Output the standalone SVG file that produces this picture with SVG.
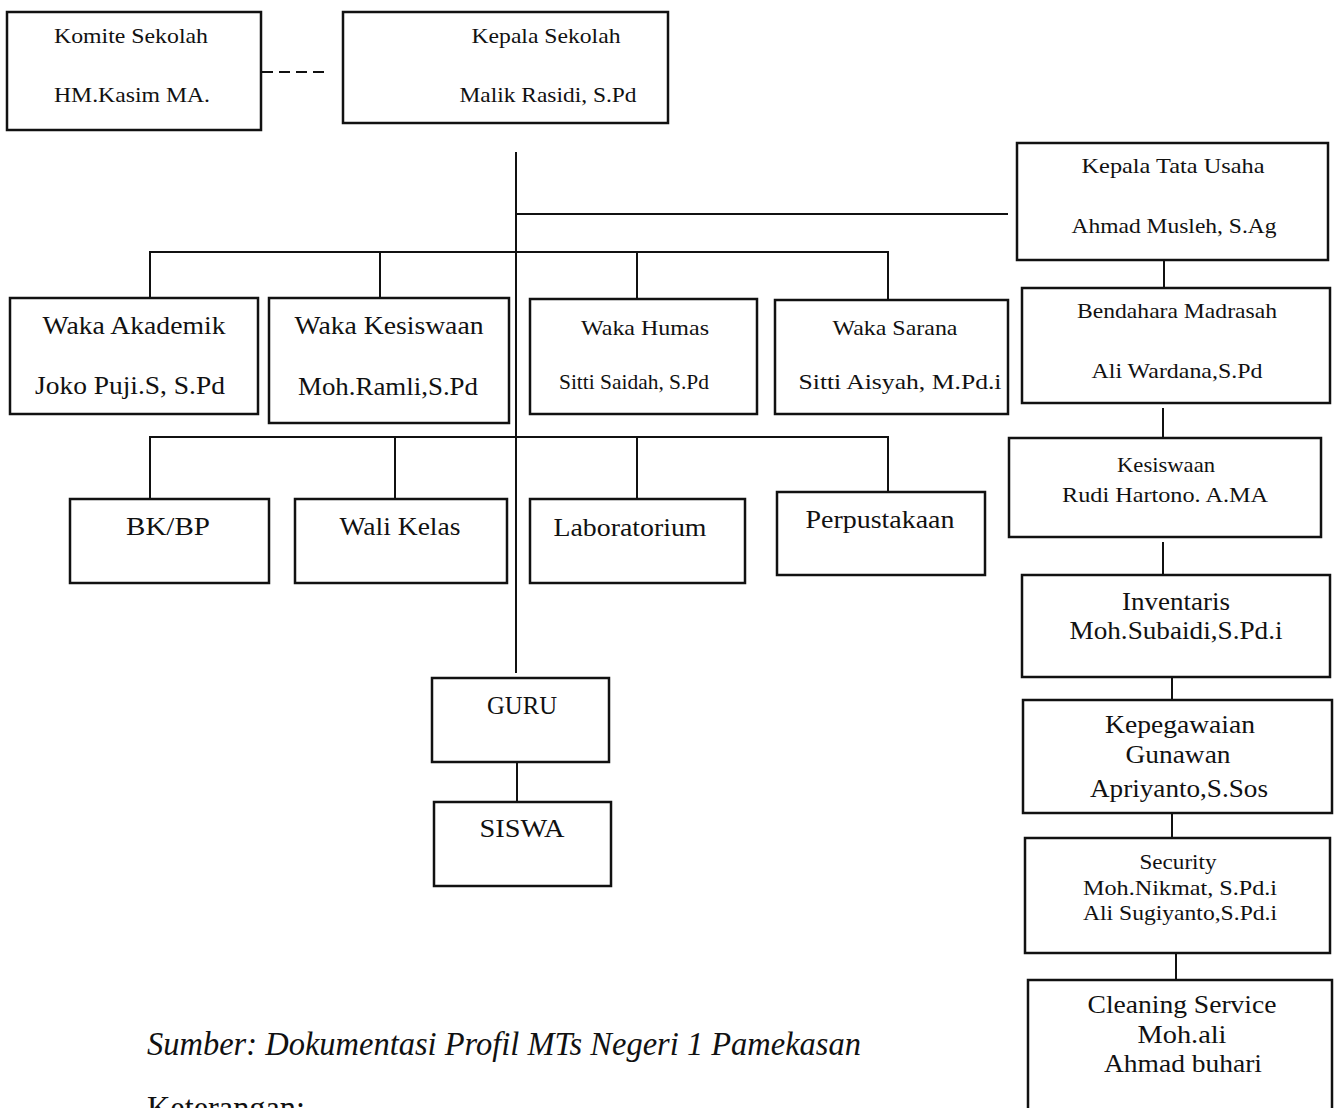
<svg xmlns="http://www.w3.org/2000/svg" width="1336" height="1108" viewBox="0 0 1336 1108">
<style>
.box{fill:#fff;stroke:#111;stroke-width:2.5}
.ln{stroke:#111;stroke-width:2;fill:none}
text{font-family:"Liberation Serif","Times New Roman",serif;fill:#111;text-anchor:middle}
.s{font-size:22px}
.l{font-size:25px}
.it{font-style:italic;font-size:34px;text-anchor:start}
.nt{font-size:34px;text-anchor:start}
</style>
<rect width="1336" height="1108" fill="#fff"/>
<g id="connectors">
<line class="ln" x1="262" y1="72" x2="328" y2="72" stroke-dasharray="11,6"/>
<line class="ln" x1="516" y1="152" x2="516" y2="673"/>
<line class="ln" x1="516" y1="214" x2="1008" y2="214"/>
<polyline class="ln" points="150,298 150,252 888,252 888,300"/>
<line class="ln" x1="380" y1="252" x2="380" y2="298"/>
<line class="ln" x1="637" y1="252" x2="637" y2="299"/>
<polyline class="ln" points="150,499 150,437 888,437 888,492"/>
<line class="ln" x1="395" y1="437" x2="395" y2="499"/>
<line class="ln" x1="637" y1="437" x2="637" y2="499"/>
<line class="ln" x1="517" y1="762" x2="517" y2="802"/>
<line class="ln" x1="1164" y1="260" x2="1164" y2="288"/>
<line class="ln" x1="1163" y1="408" x2="1163" y2="438"/>
<line class="ln" x1="1163" y1="542" x2="1163" y2="575"/>
<line class="ln" x1="1172" y1="674" x2="1172" y2="700"/>
<line class="ln" x1="1172" y1="813" x2="1172" y2="838"/>
<line class="ln" x1="1176" y1="953" x2="1176" y2="980"/>
</g>
<g id="komite"><rect class="box" x="7" y="12" width="254" height="118"/>
<text class="s" x="131" y="43" textLength="154" lengthAdjust="spacingAndGlyphs">Komite Sekolah</text>
<text class="s" x="132" y="102" textLength="156" lengthAdjust="spacingAndGlyphs">HM.Kasim MA.</text></g>
<g id="kepsek"><rect class="box" x="343" y="12" width="325" height="111"/>
<text class="s" x="546" y="43" textLength="149" lengthAdjust="spacingAndGlyphs">Kepala Sekolah</text>
<text class="s" x="548" y="102" textLength="177" lengthAdjust="spacingAndGlyphs">Malik Rasidi, S.Pd</text></g>
<g id="ktu"><rect class="box" x="1017" y="143" width="311" height="117"/>
<text class="s" x="1173" y="173" textLength="183" lengthAdjust="spacingAndGlyphs">Kepala Tata Usaha</text>
<text class="s" x="1174" y="233" textLength="205" lengthAdjust="spacingAndGlyphs">Ahmad Musleh, S.Ag</text></g>
<g id="waka-akademik"><rect class="box" x="10" y="298" width="248" height="116"/>
<text class="l" x="134" y="334" textLength="183" lengthAdjust="spacingAndGlyphs">Waka Akademik</text>
<text class="l" x="130" y="394" textLength="190" lengthAdjust="spacingAndGlyphs">Joko Puji.S, S.Pd</text></g>
<g id="waka-kesiswaan"><rect class="box" x="269" y="298" width="240" height="125"/>
<text class="l" x="389" y="334" textLength="189" lengthAdjust="spacingAndGlyphs">Waka Kesiswaan</text>
<text class="l" x="388" y="395" textLength="180" lengthAdjust="spacingAndGlyphs">Moh.Ramli,S.Pd</text></g>
<g id="waka-humas"><rect class="box" x="530" y="299" width="227" height="115"/>
<text class="s" x="645" y="335" textLength="128" lengthAdjust="spacingAndGlyphs">Waka Humas</text>
<text class="s" x="634" y="389" textLength="150" lengthAdjust="spacingAndGlyphs">Sitti Saidah,  S.Pd</text></g>
<g id="waka-sarana"><rect class="box" x="775" y="300" width="233" height="114"/>
<text class="s" x="895" y="335" textLength="125" lengthAdjust="spacingAndGlyphs">Waka Sarana</text>
<text class="s" x="900" y="389" textLength="203" lengthAdjust="spacingAndGlyphs">Sitti Aisyah, M.Pd.i</text></g>
<g id="bendahara"><rect class="box" x="1022" y="288" width="308" height="115"/>
<text class="s" x="1177" y="318" textLength="200" lengthAdjust="spacingAndGlyphs">Bendahara Madrasah</text>
<text class="s" x="1177" y="378" textLength="171" lengthAdjust="spacingAndGlyphs">Ali Wardana,S.Pd</text></g>
<g id="kesiswaan"><rect class="box" x="1009" y="438" width="312" height="99"/>
<text class="s" x="1166" y="472" textLength="98" lengthAdjust="spacingAndGlyphs">Kesiswaan</text>
<text class="s" x="1165" y="502" textLength="206" lengthAdjust="spacingAndGlyphs">Rudi  Hartono. A.MA</text></g>
<g id="bkbp"><rect class="box" x="70" y="499" width="199" height="84"/>
<text class="l" x="168" y="535" textLength="84" lengthAdjust="spacingAndGlyphs">BK/BP</text></g>
<g id="walikelas"><rect class="box" x="295" y="499" width="212" height="84"/>
<text class="l" x="400" y="535" textLength="121" lengthAdjust="spacingAndGlyphs">Wali Kelas</text></g>
<g id="lab"><rect class="box" x="530" y="499" width="215" height="84"/>
<text class="l" x="630" y="536" textLength="153" lengthAdjust="spacingAndGlyphs">Laboratorium</text></g>
<g id="perpus"><rect class="box" x="777" y="492" width="208" height="83"/>
<text class="l" x="880" y="528" textLength="149" lengthAdjust="spacingAndGlyphs">Perpustakaan</text></g>
<g id="inventaris"><rect class="box" x="1022" y="575" width="308" height="102"/>
<text class="l" x="1176" y="610" textLength="108" lengthAdjust="spacingAndGlyphs">Inventaris</text>
<text class="l" x="1176" y="639" textLength="213" lengthAdjust="spacingAndGlyphs">Moh.Subaidi,S.Pd.i</text></g>
<g id="guru"><rect class="box" x="432" y="678" width="177" height="84"/>
<text class="l" x="522" y="714" textLength="70" lengthAdjust="spacingAndGlyphs">GURU</text></g>
<g id="kepegawaian"><rect class="box" x="1023" y="700" width="309" height="113"/>
<text class="l" x="1180" y="733" textLength="150" lengthAdjust="spacingAndGlyphs">Kepegawaian</text>
<text class="l" x="1178" y="763" textLength="105" lengthAdjust="spacingAndGlyphs">Gunawan</text>
<text class="l" x="1179" y="797" textLength="178" lengthAdjust="spacingAndGlyphs">Apriyanto,S.Sos</text></g>
<g id="siswa"><rect class="box" x="434" y="802" width="177" height="84"/>
<text class="l" x="522" y="837" textLength="85" lengthAdjust="spacingAndGlyphs">SISWA</text></g>
<g id="security"><rect class="box" x="1025" y="838" width="305" height="115"/>
<text class="s" x="1178" y="869" textLength="77" lengthAdjust="spacingAndGlyphs">Security</text>
<text class="s" x="1180" y="895" textLength="194" lengthAdjust="spacingAndGlyphs">Moh.Nikmat, S.Pd.i</text>
<text class="s" x="1180" y="920" textLength="194" lengthAdjust="spacingAndGlyphs">Ali Sugiyanto,S.Pd.i</text></g>
<g id="cleaning"><rect class="box" x="1028" y="980" width="304" height="140"/>
<text class="l" x="1182" y="1013" textLength="189" lengthAdjust="spacingAndGlyphs">Cleaning Service</text>
<text class="l" x="1182" y="1043" textLength="89" lengthAdjust="spacingAndGlyphs">Moh.ali</text>
<text class="l" x="1183" y="1072" textLength="158" lengthAdjust="spacingAndGlyphs">Ahmad buhari</text></g>
<text class="it" x="147" y="1055" textLength="714" lengthAdjust="spacingAndGlyphs">Sumber: Dokumentasi Profil MTs Negeri 1 Pamekasan</text>
<text class="nt" x="147" y="1119" textLength="158" lengthAdjust="spacingAndGlyphs">Keterangan:</text>
</svg>
